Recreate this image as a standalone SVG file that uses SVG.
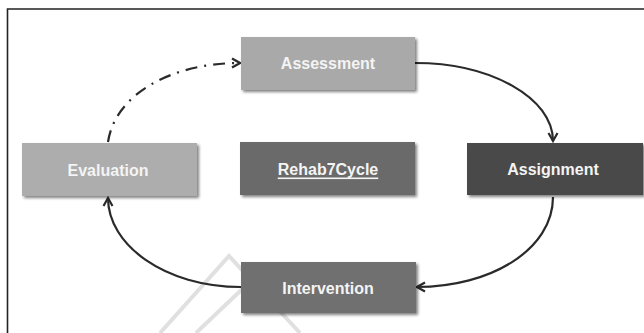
<svg xmlns="http://www.w3.org/2000/svg" width="644" height="333" viewBox="0 0 644 333">
<style>
.box{stroke:none}
.lbl{font-family:"Liberation Sans",Arial,sans-serif;font-weight:bold;font-size:16px;fill:#f4f4f4;text-anchor:middle;dominant-baseline:central}
.conn{fill:none;stroke:#2a2a2a;stroke-width:2.2}
.wm{fill:none;stroke:#e0e0e0;stroke-width:4}
</style>
<defs>
<filter id="sh" x="-10%" y="-20%" width="130%" height="150%">
<feGaussianBlur in="SourceAlpha" stdDeviation="1.5"/>
<feOffset dx="2" dy="2" result="b"/>
<feComponentTransfer><feFuncA type="linear" slope="0.5"/></feComponentTransfer>
<feMerge><feMergeNode/><feMergeNode in="SourceGraphic"/></feMerge>
</filter>
<marker id="arr" viewBox="0 0 12 12" refX="10" refY="6" markerWidth="12" markerHeight="12" markerUnits="userSpaceOnUse" orient="auto">
<path d="M2,1.5 L10,6 L2,10.5" fill="none" stroke="#2a2a2a" stroke-width="2.2"/>
</marker>
</defs>
<rect width="644" height="333" fill="#fff"/>
<path d="M7.5,333 V9 H644" fill="none" stroke="#222" stroke-width="1.6"/>
<g id="watermark">
<path class="wm" d="M160,333 L229,256 L300,333"/>
<path class="wm" d="M196,333 L256,276 L278,298"/>
</g>
<g id="connectors">
<path class="conn" marker-end="url(#arr)" d="M415,63 C491,63 553,98 553,141"/>
<path class="conn" marker-end="url(#arr)" d="M553,197 C553,250 490,287 417,287"/>
<path class="conn" marker-end="url(#arr)" d="M241,287 C165,287 108,245 108,198"/>
<path class="conn" marker-end="url(#arr)" stroke-width="2.8" stroke-dasharray="12,7,2,7" d="M108,142 C115,95 170,63 240,63"/>
</g>
<g id="assessment">
<rect class="box" x="241" y="37" width="174" height="53" fill="#a9a9a9" filter="url(#sh)"/>
<text class="lbl" x="328" y="63.5">Assessment</text>
</g>
<g id="evaluation">
<rect class="box" x="22" y="143" width="175" height="53" fill="#adadad" filter="url(#sh)"/>
<text class="lbl" x="108" y="170">Evaluation</text>
</g>
<g id="rehabcycle">
<rect class="box" x="240" y="142" width="175" height="53" fill="#6a6a6a" filter="url(#sh)"/>
<text class="lbl" x="328" y="169" text-decoration="underline">Rehab7Cycle</text>
</g>
<g id="assignment">
<rect class="box" x="467" y="143" width="176" height="52" fill="#4a4a4a" filter="url(#sh)"/>
<text class="lbl" x="553" y="169">Assignment</text>
</g>
<g id="intervention">
<rect class="box" x="241" y="262" width="175" height="51" fill="#707070" filter="url(#sh)"/>
<text class="lbl" x="328" y="288">Intervention</text>
</g>
</svg>
